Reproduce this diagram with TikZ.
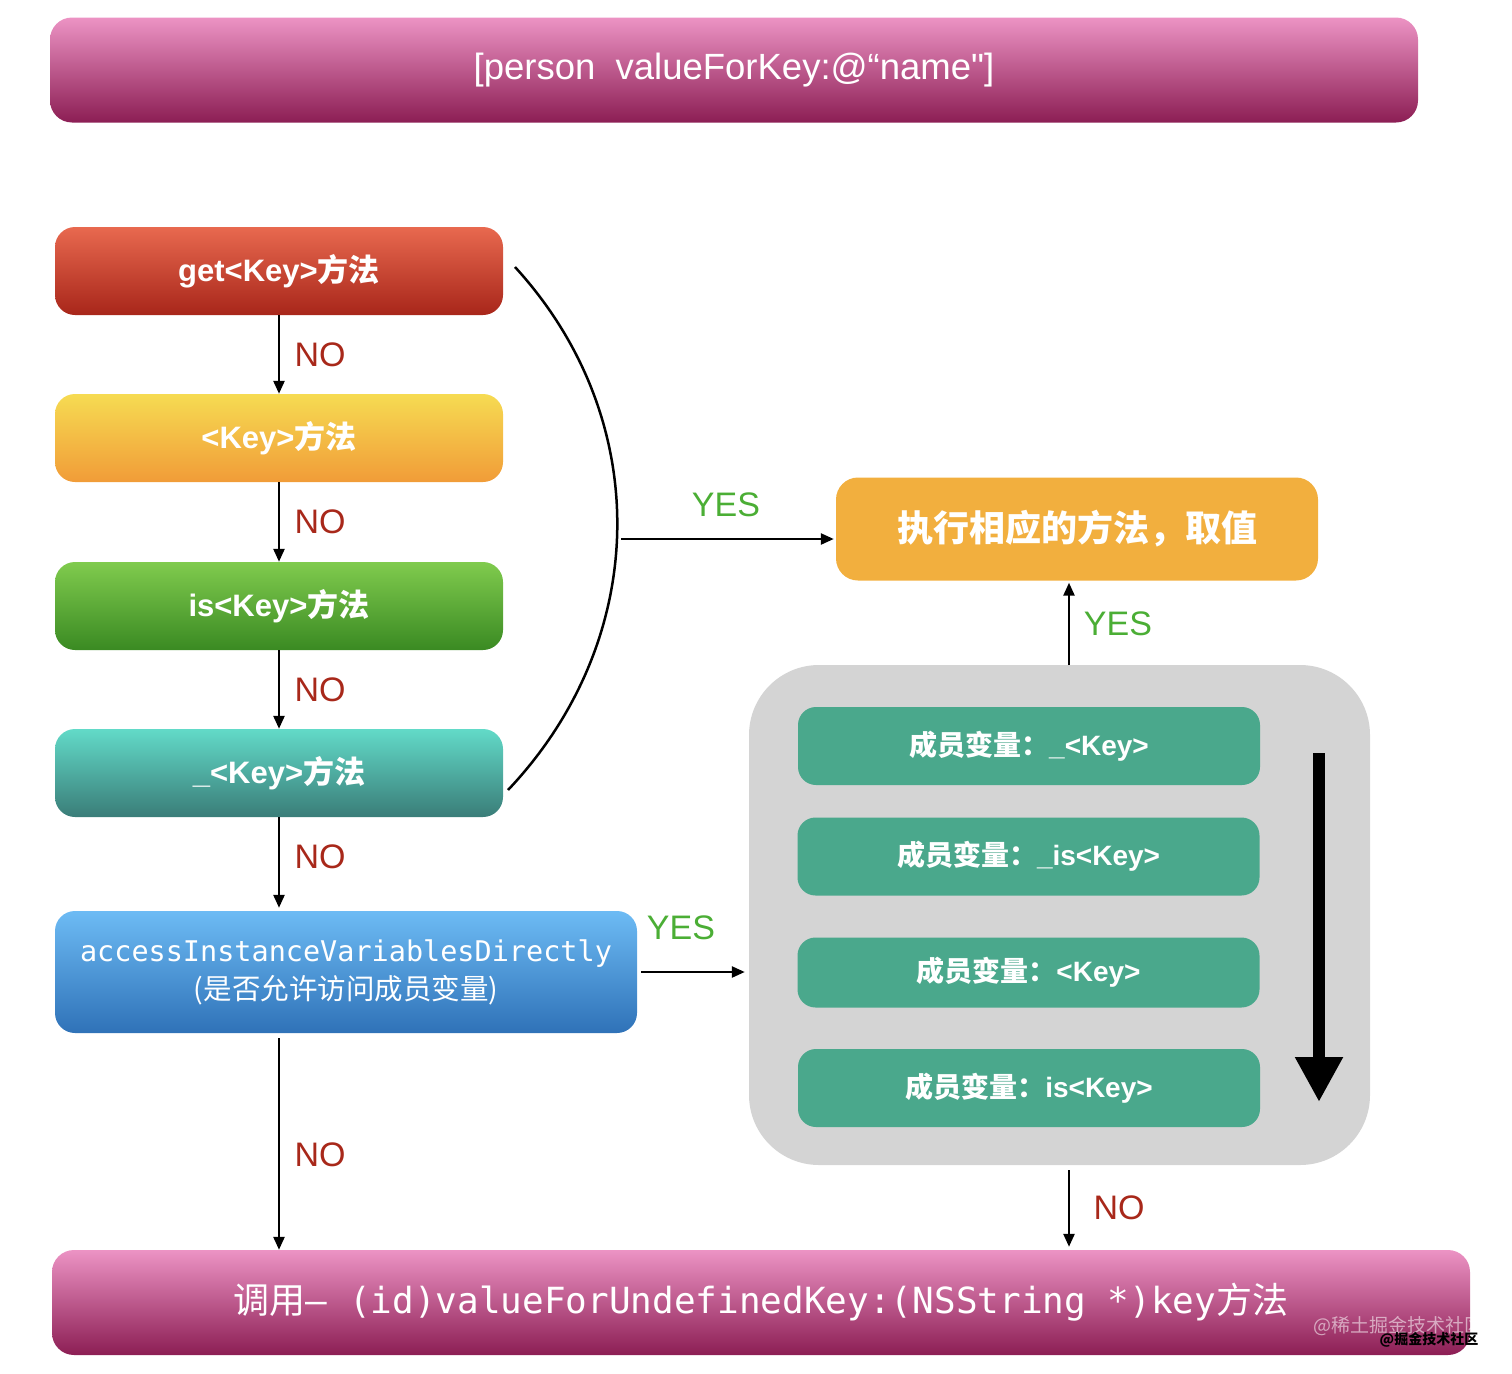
\documentclass[tikz,border=0pt]{standalone}
\usepackage{fontspec}
\setmainfont{Liberation Sans}
\setmonofont{DejaVu Sans Mono}
\newfontfamily\cjk{Noto Sans CJK SC}
\newfontfamily\titlefont{Liberation Sans}
\usetikzlibrary{arrows.meta}

\definecolor{bannertop}{HTML}{EC93C4}
\definecolor{bannerbot}{HTML}{8C1E54}
\definecolor{redtop}{HTML}{E8694F}
\definecolor{redbot}{HTML}{A8261A}
\definecolor{yellowtop}{HTML}{F6DB52}
\definecolor{yellowbot}{HTML}{F19C38}
\definecolor{greentop}{HTML}{80CB4E}
\definecolor{greenbot}{HTML}{3A8A22}
\definecolor{tealtop}{HTML}{62DAC8}
\definecolor{tealbot}{HTML}{3A7D78}
\definecolor{bluetop}{HTML}{6DBBF4}
\definecolor{bluebot}{HTML}{2F72B8}
\definecolor{resultorange}{HTML}{F2AF3E}
\definecolor{ivargreen}{HTML}{4AA88C}
\definecolor{panelgray}{HTML}{D4D4D4}
\definecolor{nored}{HTML}{A8281A}
\definecolor{yesgreen}{HTML}{4BAE35}

\tikzstyle{banner}=[rounded corners=22pt,minimum width=1368pt,minimum height=105pt,
    inner sep=0pt,top color=bannertop,bottom color=bannerbot,text=white]
\tikzstyle{method}=[rounded corners=20pt,minimum width=448pt,minimum height=88pt,
    inner sep=0pt,text=white,font=\fontsize{31}{36}\selectfont\bfseries]
\tikzstyle{result}=[rounded corners=22pt,minimum width=482pt,minimum height=103pt,
    inner sep=0pt,fill=resultorange,text=white,font=\fontsize{36}{44}\selectfont\bfseries]
\tikzstyle{panel}=[rounded corners=70pt,minimum width=621pt,minimum height=500pt,
    inner sep=0pt,fill=panelgray]
\tikzstyle{ivar}=[rounded corners=18pt,minimum width=462pt,minimum height=78pt,
    inner sep=0pt,fill=ivargreen,text=white,font=\fontsize{28}{32}\selectfont\bfseries]
\tikzstyle{transition}=[line width=2.5pt,-{Triangle[length=13pt,width=11pt]}]
\tikzstyle{no label}=[anchor=west,text=nored,font=\fontsize{34}{40}\selectfont]
\tikzstyle{yes label}=[text=yesgreen,font=\fontsize{34}{40}\selectfont]
\newcommand{\zh}[1]{{\cjk #1}}

\begin{document}
\begin{tikzpicture}[x=1pt,y=-1pt]
    \useasboundingbox (0,0) rectangle (1512,1373);
    %
    \node[banner,font=\fontsize{36.5}{42}\selectfont\titlefont] (call) at (734,70)
        {[person~ valueForKey:@“name"]};
    %
    \node[method,top color=redtop,bottom color=redbot] (get) at (279,271)
        {get<Key>\zh{方法}};
    \node[method,top color=yellowtop,bottom color=yellowbot] (key) at (279,438)
        {<Key>\zh{方法}};
    \node[method,top color=greentop,bottom color=greenbot] (is) at (279,606)
        {is<Key>\zh{方法}};
    \node[method,top color=tealtop,bottom color=tealbot] (under) at (279,773)
        {\_<Key>\zh{方法}};
    \node[method,top color=bluetop,bottom color=bluebot,minimum width=582pt,
        minimum height=122pt,align=center,font=\fontsize{28.5}{38}\selectfont]
        (access) at (346,972)
        {\ttfamily accessInstanceVariablesDirectly\\\zh{(是否允许访问成员变量)}};
    %
    \node[result] (result) at (1077,529) {\zh{执行相应的方法，取值}};
    %
    \node[panel] (panel) at (1059.5,915) {};
    \node[ivar] (ivar1) at (1029,746) {\zh{成员变量：}\_<Key>};
    \node[ivar] (ivar2) at (1028.5,856.5) {\zh{成员变量：}\_is<Key>};
    \node[ivar,minimum height=70pt] (ivar3) at (1028.5,972.5) {\zh{成员变量：}<Key>};
    \node[ivar] (ivar4) at (1029,1088) {\zh{成员变量：}is<Key>};
    \coordinate (flowtop) at (1319,753);
    \coordinate (flowbot) at (1319,1102);
    \draw[line width=12pt,-{Triangle[length=45pt,width=45pt]}] (flowtop) -- (flowbot);
    %
    \node[banner,minimum width=1418pt,font=\fontsize{36}{42}\selectfont\ttfamily]
        (final) at (761,1302.5)
        {\zh{调用}– (id)valueForUndefinedKey:(NSString *)key\zh{方法}};
    %
    \draw[transition] (get) -- (key);
    \node[no label] (no1) at (291,355) {NO};
    \draw[transition] (key) -- (is);
    \node[no label] (no2) at (291,522) {NO};
    \draw[transition] (is) -- (under);
    \node[no label] (no3) at (291,690) {NO};
    \draw[transition,shorten >=3pt] (under) -- (under |- access.north);
    \node[no label] (no4) at (291,857) {NO};
    \draw[transition,shorten <=5pt] (access.south -| under) -- (final.north -| under);
    \node[no label] (no5) at (291,1155) {NO};
    %
    \coordinate (bendtop) at (515,267);
    \coordinate (bendbot) at (508,790);
    \draw[line width=2.5pt] (bendtop) .. controls (655,420) and (650,640) .. (bendbot);
    \coordinate (yesstart) at (621,539);
    \draw[transition,shorten >=2pt] (yesstart) -- (yesstart -| result.west);
    \node[yes label] (yes1) at (726,505) {YES};
    %
    \draw[transition,shorten <=4pt,shorten >=4pt] (access.east) -- (access.east -| panel.west);
    \node[yes label] (yes2) at (681,928) {YES};
    %
    \coordinate (yesup) at (1069,665);
    \draw[transition,shorten >=2pt] (yesup) -- (yesup |- result.south);
    \node[yes label] (yes3) at (1118,624) {YES};
    %
    \draw[transition,shorten <=5pt,shorten >=3pt] (panel.south -| yesup) -- (final.north -| yesup);
    \node[no label] (no6) at (1090,1208) {NO};
    %
    \node[text=white,opacity=0.55,font=\fontsize{19}{19}\selectfont\cjk] (mark1)
        at (1398,1326) {@稀土掘金技术社区};
    \node[text=black,font=\fontsize{14}{14}\selectfont\cjk\bfseries] (mark2)
        at (1429,1340) {@掘金技术社区};
\end{tikzpicture}
\end{document}
